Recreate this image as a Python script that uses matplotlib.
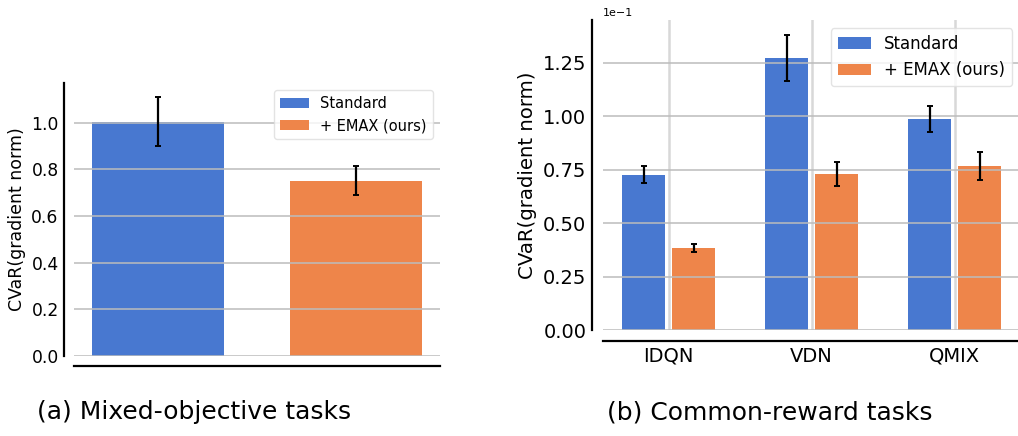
import numpy as np
import matplotlib
matplotlib.use("Agg")
import matplotlib.pyplot as plt
from matplotlib.ticker import ScalarFormatter

# Data
methods = ['Standard', '+ EMAX (ours)']
colors = ['#4878d0', '#ee854a']

# (a) mixed-objective tasks
mixed_means = [1.005, 0.752]
mixed_err = [0.105, 0.0625]

# (b) common-reward tasks (values in units of 1, axis shows x1e-1)
algos = ['IDQN', 'VDN', 'QMIX']
common_standard = [0.0726, 0.1272, 0.0988]
common_standard_err = [0.0039, 0.0108, 0.00615]
common_emax = [0.0382, 0.0730, 0.0768]
common_emax_err = [0.00185, 0.00555, 0.0065]

fig = plt.figure(figsize=(10.18, 4.36), dpi=100)

# ---- left panel
ax1 = fig.add_axes([0.0727, 0.1835, 0.3595, 0.626])
for i, (m, v, e) in enumerate(zip(methods, mixed_means, mixed_err)):
    ax1.bar(i, v, width=0.67, color=colors[i], label=m, zorder=1)
    ax1.errorbar(i, v, yerr=e, color='black', capsize=2.5, elinewidth=1.6,
                 capthick=1.4, zorder=3)
ax1.set_xlim(-0.424, 1.424)
ax1.set_ylim(0, 1.17)
ax1.set_yticks(np.arange(0, 1.01, 0.2))
ax1.set_xticks([])
ax1.set_axisbelow(False)
ax1.grid(axis='y', color='#bcbcbc', linewidth=1.1, zorder=2)
ax1.set_ylabel('CVaR(gradient norm)', fontsize=12.5)
ax1.tick_params(axis='y', length=0, pad=4, labelsize=12.3)
ax1.legend(loc='upper right', fontsize=10.5, frameon=True, fancybox=True,
           edgecolor='#dddddd')

# ---- right panel
ax2 = fig.add_axes([0.5923, 0.2431, 0.41, 0.711])
x = np.arange(len(algos))
ax2.bar(x - 0.175, common_standard, width=0.30, color=colors[0], label=methods[0], zorder=1)
ax2.bar(x + 0.175, common_emax, width=0.30, color=colors[1], label=methods[1], zorder=1)
ax2.errorbar(x - 0.175, common_standard, yerr=common_standard_err, fmt='none',
             ecolor='black', capsize=2.5, elinewidth=1.6, capthick=1.4, zorder=3)
ax2.errorbar(x + 0.175, common_emax, yerr=common_emax_err, fmt='none',
             ecolor='black', capsize=2.5, elinewidth=1.6, capthick=1.4, zorder=3)
ax2.set_xlim(-0.46, 2.46)
ax2.set_ylim(0, 0.145)
ax2.set_yticks(np.arange(0, 0.1251, 0.025))
ax2.set_xticks(x)
ax2.set_xticklabels(algos)
fmt = ScalarFormatter(useMathText=False)
fmt.set_powerlimits((0, 0))
ax2.yaxis.set_major_formatter(fmt)
ax2.yaxis.get_offset_text().set_fontsize(8)
ax2.set_axisbelow(False)
ax2.grid(axis='y', color='#bcbcbc', linewidth=1.1, zorder=2)
ax2.grid(axis='x', color='#d8d8d8', linewidth=1.8, zorder=0.5)
ax2.set_ylabel('CVaR(gradient norm)', fontsize=14.2)
ax2.tick_params(axis='both', length=0, pad=4, labelsize=14)
ax2.legend(loc='upper right', fontsize=12, frameon=True, fancybox=True,
           edgecolor='#dddddd')

for ax, off in [(ax1, 7), (ax2, 8)]:
    for s in ['top', 'right']:
        ax.spines[s].set_visible(False)
    for s in ['left', 'bottom']:
        ax.spines[s].set_position(('outward', off))
        ax.spines[s].set_linewidth(1.6)
        ax.spines[s].set_color('black')

fig.text(0.1906, 0.055, '(a) Mixed-objective tasks', fontsize=18, ha='center', va='center')
fig.text(0.7564, 0.055, '(b) Common-reward tasks', fontsize=18, ha='center', va='center')

fig.savefig('out.png', dpi=100)
